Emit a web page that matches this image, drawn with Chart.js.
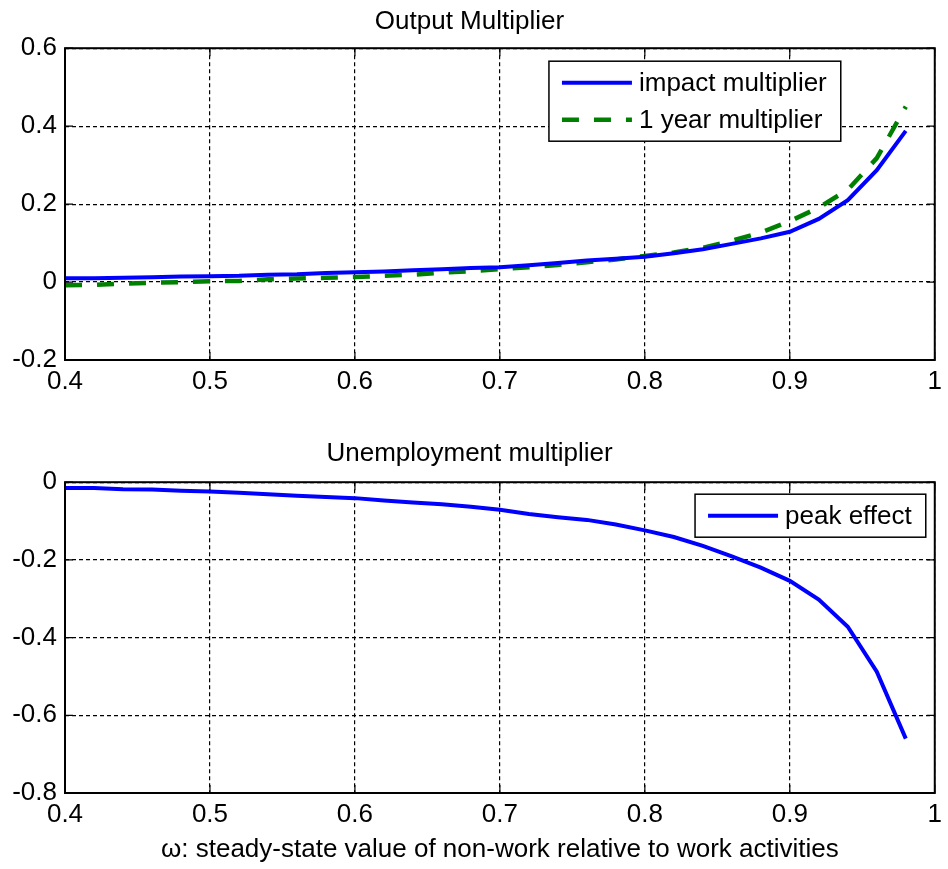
<!DOCTYPE html>
<html>
<head>
<meta charset="utf-8">
<title>Output and unemployment multipliers</title>
<script src="https://cdn.jsdelivr.net/npm/chart.js@4.4.1/dist/chart.umd.min.js"></script>
<style>
  html, body { margin: 0; padding: 0; background: #fff; }
  .figure { position: relative; width: 948px; height: 869px; }
  .panel { position: absolute; left: 0; width: 948px; }
  #topPanel { top: 0; height: 410px; }
  #bottomPanel { top: 410px; height: 459px; }
</style>
</head>
<body>
<div class="figure">
  <div class="panel" id="topPanel"><canvas id="outputChart" width="948" height="410"></canvas></div>
  <div class="panel" id="bottomPanel"><canvas id="unempChart" width="948" height="459"></canvas></div>
</div>
<script>
// omega: steady-state value of non-work relative to work activities
const omega = [0.40, 0.42, 0.44, 0.46, 0.48, 0.50, 0.52, 0.54, 0.56, 0.58,
               0.60, 0.62, 0.64, 0.66, 0.68, 0.70, 0.72, 0.74, 0.76, 0.78,
               0.80, 0.82, 0.84, 0.86, 0.88, 0.90, 0.92, 0.94, 0.96, 0.98];

// output multiplier (top panel)
const impactMultiplier = [0.010, 0.010, 0.011, 0.012, 0.014, 0.015, 0.016, 0.019, 0.020, 0.023,
                          0.025, 0.027, 0.030, 0.033, 0.036, 0.038, 0.043, 0.049, 0.055, 0.060,
                          0.065, 0.074, 0.084, 0.098, 0.112, 0.129, 0.162, 0.210, 0.287, 0.388];
const yearMultiplier = [-0.008, -0.007, -0.004, -0.002, 0.000, 0.002, 0.003, 0.007, 0.009, 0.011,
                        0.013, 0.016, 0.019, 0.024, 0.028, 0.033, 0.038, 0.044, 0.051, 0.058,
                        0.067, 0.076, 0.088, 0.106, 0.127, 0.156, 0.191, 0.237, 0.318, 0.450];

// unemployment multiplier (bottom panel)
const peakEffect = [-0.015, -0.015, -0.018, -0.019, -0.022, -0.024, -0.027, -0.031, -0.035, -0.038,
                    -0.041, -0.047, -0.052, -0.057, -0.063, -0.071, -0.082, -0.090, -0.097, -0.109,
                    -0.124, -0.141, -0.164, -0.191, -0.220, -0.254, -0.302, -0.372, -0.488, -0.660];

// tick values
const xTicks = [0.4, 0.5, 0.6, 0.7, 0.8, 0.9, 1];
const outputTicks = [-0.2, 0, 0.2, 0.4, 0.6];
const unempTicks = [-0.8, -0.6, -0.4, -0.2, 0];

const FONT = '"Liberation Sans", Arial, Helvetica, sans-serif';

function toPoints(values) {
    return omega.map(function(x, i) { return { x: x, y: values[i] }; });
}

function fmt(v) {
    return String(+v.toFixed(2));
}

// box around the axes plus small inward ticks, like matlab
const matlabFrame = {
    id: 'matlabFrame',
    afterDatasetsDraw(chart) {
        const ctx = chart.ctx;
        const a = chart.chartArea;
        const xs = chart.scales.x;
        const ys = chart.scales.y;
        ctx.save();
        ctx.setLineDash([]);
        ctx.strokeStyle = '#000';
        ctx.lineWidth = 1.2;
        ctx.beginPath();
        xs.ticks.forEach(function(t) {
            const px = xs.getPixelForValue(t.value);
            ctx.moveTo(px, a.bottom); ctx.lineTo(px, a.bottom - 8);
            ctx.moveTo(px, a.top); ctx.lineTo(px, a.top + 8);
        });
        ys.ticks.forEach(function(t) {
            const py = ys.getPixelForValue(t.value);
            ctx.moveTo(a.left, py); ctx.lineTo(a.left + 8, py);
            ctx.moveTo(a.right, py); ctx.lineTo(a.right - 8, py);
        });
        ctx.stroke();
        ctx.lineWidth = 2;
        ctx.strokeRect(a.left, a.top, a.right - a.left, a.bottom - a.top);
        ctx.restore();
    }
};

// legend drawn inside the axes with a black box
const boxLegend = {
    id: 'boxLegend',
    afterDraw(chart, args, opts) {
        const ctx = chart.ctx;
        const a = chart.chartArea;
        const sets = chart.data.datasets;
        ctx.save();
        ctx.font = '26px ' + FONT;
        let textW = 0;
        sets.forEach(function(ds) { textW = Math.max(textW, ctx.measureText(ds.label).width); });
        const w = 13 + 70 + 7 + textW + 14;
        const h = sets.length * 37 + 6;
        const left = a.right - opts.right - w;
        const top = a.top + opts.top;
        ctx.fillStyle = '#fff';
        ctx.fillRect(left, top, w, h);
        ctx.strokeStyle = '#000';
        ctx.lineWidth = 1.5;
        ctx.strokeRect(left, top, w, h);
        sets.forEach(function(ds, i) {
            const cy = top + 21.5 + i * 37;
            ctx.beginPath();
            ctx.setLineDash(ds.borderDash || []);
            ctx.strokeStyle = ds.borderColor;
            ctx.lineWidth = ds.borderWidth;
            ctx.moveTo(left + 13, cy);
            ctx.lineTo(left + 83, cy);
            ctx.stroke();
            ctx.setLineDash([]);
            ctx.fillStyle = '#000';
            ctx.textAlign = 'left';
            ctx.textBaseline = 'middle';
            ctx.fillText(ds.label, left + 90, cy + 1);
        });
        ctx.restore();
    }
};

function makeScales(yMin, yMax, yTickValues, xAxisHeight, xTitle) {
    return {
        x: {
            type: 'linear',
            min: 0.4,
            max: 1,
            afterBuildTicks: function(scale) {
                scale.ticks = xTicks.map(function(v) { return { value: v }; });
            },
            afterFit: function(scale) { scale.height = xAxisHeight; },
            grid: { color: '#000', lineWidth: 1.2, drawTicks: false },
            border: { display: false, dash: [4, 3] },
            ticks: {
                color: '#000',
                padding: 6,
                maxRotation: 0,
                autoSkip: false,
                font: { family: FONT, size: 26 },
                callback: fmt
            },
            title: {
                display: !!xTitle,
                text: xTitle || '',
                color: '#000',
                padding: { top: 4, bottom: 4 },
                font: { family: FONT, size: 26 }
            }
        },
        y: {
            min: yMin,
            max: yMax,
            afterBuildTicks: function(scale) {
                scale.ticks = yTickValues.map(function(v) { return { value: v }; });
            },
            afterFit: function(scale) { scale.width = 65; },
            grid: { color: '#000', lineWidth: 1.2, drawTicks: false },
            border: { display: false, dash: [4, 3] },
            ticks: {
                color: '#000',
                padding: 8,
                autoSkip: false,
                font: { family: FONT, size: 26 },
                callback: fmt
            }
        }
    };
}

// top panel: output multiplier
const outputChart = new Chart(document.getElementById('outputChart'), {
    type: 'line',
    data: {
        datasets: [{
            label: 'impact multiplier',
            data: toPoints(impactMultiplier),
            borderColor: '#0000ff',
            borderWidth: 4,
            pointRadius: 0,
            tension: 0
        }, {
            label: '1 year multiplier',
            data: toPoints(yearMultiplier),
            borderColor: '#008000',
            borderWidth: 4.5,
            borderDash: [17, 15],
            pointRadius: 0,
            tension: 0
        }]
    },
    options: {
        responsive: false,
        animation: false,
        layout: { padding: { left: 0, right: 9, top: 0, bottom: 0 } },
        scales: makeScales(-0.2, 0.6, outputTicks, 50, null),
        plugins: {
            legend: { display: false },
            tooltip: { enabled: false },
            title: {
                display: true,
                text: 'Output Multiplier',
                color: '#000',
                font: { family: FONT, size: 26, weight: 'normal' },
                padding: { top: 6, bottom: 11 }
            },
            boxLegend: { right: 94, top: 13 }
        }
    },
    plugins: [matlabFrame, boxLegend]
});

// bottom panel: unemployment multiplier
const unempChart = new Chart(document.getElementById('unempChart'), {
    type: 'line',
    data: {
        datasets: [{
            label: 'peak effect',
            data: toPoints(peakEffect),
            borderColor: '#0000ff',
            borderWidth: 4,
            pointRadius: 0,
            tension: 0
        }]
    },
    options: {
        responsive: false,
        animation: false,
        layout: { padding: { left: 0, right: 9, top: 0, bottom: 0 } },
        scales: makeScales(-0.8, 0, unempTicks, 76, '\u03c9: steady-state value of non-work relative to work activities'),
        plugins: {
            legend: { display: false },
            tooltip: { enabled: false },
            title: {
                display: true,
                text: 'Unemployment multiplier',
                color: '#000',
                font: { family: FONT, size: 26, weight: 'normal' },
                padding: { top: 28, bottom: 13 }
            },
            boxLegend: { right: 9, top: 12 }
        }
    },
    plugins: [matlabFrame, boxLegend]
});
</script>
</body>
</html>
